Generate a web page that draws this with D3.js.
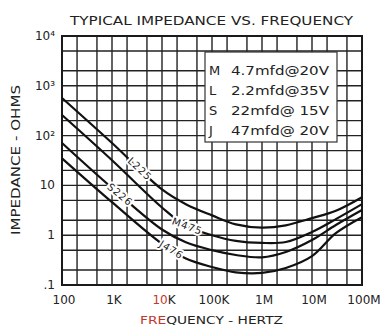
<!DOCTYPE html>
<html><head><meta charset="utf-8">
<script src="https://cdn.jsdelivr.net/npm/d3@7"></script>
<style>
html,body{margin:0;padding:0;background:#fff;}
svg{display:block;font-family:"DejaVu Sans",sans-serif;}
</style></head>
<body><svg id="c" width="382" height="328"></svg>
<script>
const title = "TYPICAL IMPEDANCE VS. FREQUENCY";
const xTitle = "FREQUENCY - HERTZ";
const yTitle = "IMPEDANCE - OHMS";
const xTickValues = [1e2, 1e3, 1e4, 1e5, 1e6, 1e7, 1e8];
const xTickLabels = ["100", "1K", "10K", "100K", "1M", "10M", "100M"];
const yTickValues = [0.1, 1, 10, 100, 1000, 10000];
const yTickLabels = [".1", "1", "10", "10²", "10³", "10⁴"];
const freqs = [1e2, 1e3, 1e4, 3e4, 1e5, 3e5, 1e6, 3e6, 1e7, 3e7, 1e8];
const seriesL = [569, 71, 8.3, 4.2, 2.5, 1.65, 1.42, 1.58, 2.2, 3.1, 5.8];
const seriesM = [259, 32, 3.6, 1.55, 1.0, 0.77, 0.70, 0.73, 1.16, 2.1, 4.2];
const seriesS = [71, 8.9, 1.3, 0.72, 0.50, 0.40, 0.36, 0.46, 0.80, 1.6, 3.2];
const seriesJ = [35, 4.6, 0.67, 0.34, 0.23, 0.18, 0.175, 0.22, 0.38, 1.1, 2.3];
const curveNames = ["L225", "M475", "S226", "J476"];
const curveLabelFreqs = [3.6e3, 3.2e4, 1.45e3, 1.55e4];
const legendKeys = ["M", "L", "S", "J"];
const legendTexts = ["4.7mfd@20V", "2.2mfd@35V", "22mfd@ 15V", "47mfd@ 20V"];

const svg = d3.select("#c");
const x = d3.scaleLog().domain([1e2, 1e8]).range([62, 362]);
const y = d3.scaleLog().domain([0.1, 1e4]).range([285, 36]);

// grid at 1,2,5 per decade
const xGrid = [], yGrid = [];
for (let e = 2; e <= 8; e++) [1, 2, 5].forEach(m => { const v = m * 10 ** e; if (v <= 1e8) xGrid.push(v); });
for (let e = -1; e <= 4; e++) [1, 2, 5].forEach(m => { const v = m * 10 ** e; if (v <= 1e4 + 1) yGrid.push(v); });

const g = svg.append("g");
g.selectAll(".vg").data(xGrid).join("line")
  .attr("x1", d => x(d)).attr("x2", d => x(d)).attr("y1", y(1e4)).attr("y2", y(0.1))
  .attr("stroke", "#222").attr("stroke-width", 1.4);
g.selectAll(".hg").data(yGrid).join("line")
  .attr("y1", d => y(d)).attr("y2", d => y(d)).attr("x1", x(1e2)).attr("x2", x(1e8))
  .attr("stroke", "#222").attr("stroke-width", 1.4);
g.append("rect").attr("x", x(1e2)).attr("y", y(1e4)).attr("width", x(1e8) - x(1e2)).attr("height", y(0.1) - y(1e4))
  .attr("fill", "none").attr("stroke", "#1a1a1a").attr("stroke-width", 2);

// legend box
const lg = svg.append("g");
lg.append("rect").attr("x", 205).attr("y", 52).attr("width", 132).attr("height", 90)
  .attr("fill", "#fff").attr("stroke", "#333").attr("stroke-width", 1.2);
legendKeys.forEach((k, i) => {
  lg.append("text").attr("x", 209).attr("y", 75 + i * 20).attr("font-size", 13).attr("fill", "#222").text(k);
  lg.append("text").attr("x", 231).attr("y", 75 + i * 20).attr("font-size", 13).attr("fill", "#222")
    .attr("textLength", 98).attr("lengthAdjust", "spacingAndGlyphs").text(legendTexts[i]);
});

// curves
const allSeries = [seriesL, seriesM, seriesS, seriesJ];
const line = d3.line().x(d => x(d[0])).y(d => y(d[1])).curve(d3.curveCatmullRom.alpha(0.5));
allSeries.forEach(s => {
  svg.append("path").attr("d", line(freqs.map((f, i) => [f, s[i]])))
    .attr("fill", "none").attr("stroke", "#111").attr("stroke-width", 2.2);
});

// curve labels
function interp(s, f) {
  const lf = Math.log10(f);
  for (let i = 0; i < freqs.length - 1; i++) {
    const a = Math.log10(freqs[i]), b = Math.log10(freqs[i + 1]);
    if (lf >= a && lf <= b) {
      const t = (lf - a) / (b - a);
      return 10 ** (Math.log10(s[i]) * (1 - t) + Math.log10(s[i + 1]) * t);
    }
  }
  return s[s.length - 1];
}
curveNames.forEach((n, i) => {
  const f = curveLabelFreqs[i], s = allSeries[i];
  const px = x(f), py = y(interp(s, f));
  const px2 = x(f * 1.3), py2 = y(interp(s, f * 1.3));
  const ang = Math.atan2(py2 - py, px2 - px) * 180 / Math.PI;
  svg.append("text").attr("transform", `translate(${px},${py}) rotate(${ang})`)
    .attr("text-anchor", "middle").attr("dy", "0.35em").attr("font-size", 10).attr("fill", "#222")
    .attr("stroke", "#fff").attr("stroke-width", 4).attr("paint-order", "stroke")
    .attr("letter-spacing", 1).text(n);
});

// axis tick labels
svg.selectAll(".xt").data(xTickValues).join("text")
  .attr("x", d => x(d) + 2).attr("y", 304).attr("text-anchor", "middle").attr("font-size", 12).attr("fill", "#222")
  .each(function (d, i) {
    const t = d3.select(this);
    if (xTickLabels[i] === "10K") {
      t.append("tspan").attr("fill", "#c0392b").text("10");
      t.append("tspan").text("K");
    } else t.text(xTickLabels[i]);
  });
svg.selectAll(".yt").data(yTickValues).join("text")
  .attr("x", 55).attr("y", d => y(d) + 4).attr("text-anchor", "end").attr("font-size", 12).attr("fill", "#222")
  .text((d, i) => yTickLabels[i]);

// titles
svg.append("text").attr("x", 70).attr("y", 25).attr("font-size", 12).attr("fill", "#222")
  .attr("textLength", 283).attr("lengthAdjust", "spacingAndGlyphs").text(title);
const xt = svg.append("text").attr("x", 140).attr("y", 324).attr("font-size", 11).attr("fill", "#222")
  .attr("textLength", 143).attr("lengthAdjust", "spacingAndGlyphs");
xt.append("tspan").attr("fill", "#c0392b").text("FRE");
xt.append("tspan").text(xTitle.slice(3));
svg.append("text").attr("transform", "translate(20,160) rotate(-90)").attr("text-anchor", "middle")
  .attr("font-size", 11.5).attr("fill", "#222").attr("textLength", 150).attr("lengthAdjust", "spacingAndGlyphs")
  .text(yTitle);
</script></body></html>
